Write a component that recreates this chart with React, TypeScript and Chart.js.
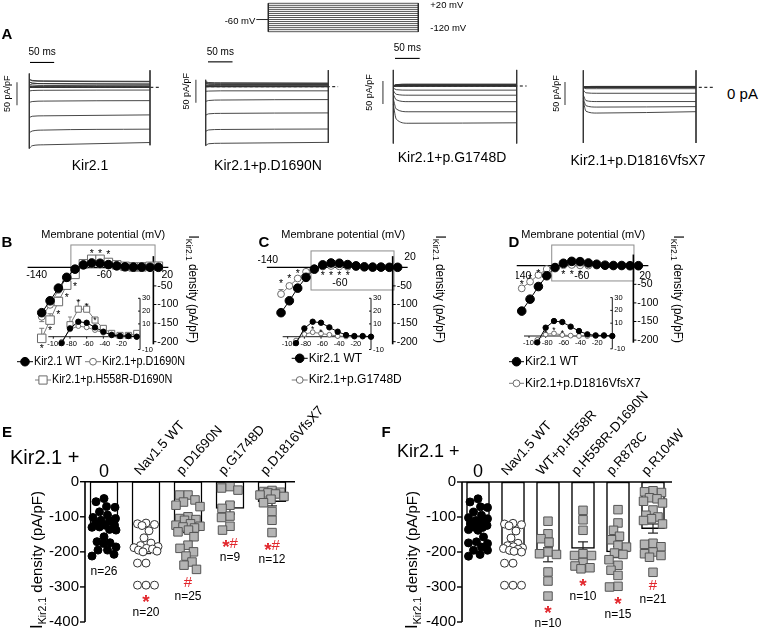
import React, { useEffect, useRef } from "react";
import { Chart, registerables } from "chart.js";

Chart.register(...registerables);

const FONT = '"Liberation Sans", Arial, Helvetica, sans-serif';
const RED = "#e2262c";

/* ========================= DATA ========================= */
// Voltage protocol (mV)
const protocolStepsMv = [20, 10, 0, -10, -20, -30, -40, -50, -60, -70, -80, -90, -100, -110, -120];
const holdingMv = -60;
const holdingLeadMs = 20;
const stepMs = 250;

// Current traces (pA/pF) sampled at sweepTimesMs; sweeps listed from -130 mV to +10 mV
const sweepTimesMs = [0, 6, 30, 250];
const tracesKir21 = [
  [-133, -127, -125, -120], [-99, -95, -93, -91], [-66, -63, -62, -60], [-33, -31, -30, -29],
  [-8, -7, -6.5, -6], [12, 9, 8, 7], [18, 15, 14, 13], [17, 14, 13, 12], [12, 9, 8, 7],
  [7, 5, 4, 3.5], [4, 2, 1.5, 1.5], [2, 1, 0.5, 0.5], [1, 0.5, 0, 0], [0.5, 0, 0, 0], [0.5, 0, 0, 0],
];
const tracesD1690N = [
  [-128, -124, -123, -121], [-97, -94, -93, -92], [-62, -59, -58, -57], [-32, -30, -29, -28],
  [-10, -9.5, -9, -9], [8, 6, 5.5, 5], [11, 9, 8.5, 8], [10, 8, 7.5, 7], [7, 5.5, 5, 5],
  [4, 3, 3, 3], [2, 2, 1.5, 1.5], [1, 1, 1, 1], [0.5, 0.5, 0.5, 0.5], [0, 0, 0, 0], [0, 0, 0, 0],
];
const tracesG1748D = [
  [-40, -72, -81, -80], [-28, -50, -56, -56], [-18, -30, -34, -34], [-10, -18, -20, -20],
  [-4, -8, -9, -9], [0, 2, 2.5, 2.5], [0, 3, 4, 4], [0, 3, 3.5, 3.5], [0, 2, 2, 2],
  [0, 1, 1, 1], [0, 0.5, 0.5, 0.5], [0, 0, 0, 0], [0, 0, 0, 0], [0, 0, 0, 0], [0, 0, 0, 0],
];
const tracesD1816 = [
  [-30, -52, -56, -53], [-24, -40, -43, -42], [-17, -29, -31, -31], [-6, -12, -13, -13],
  [-1, -3, -3, -3], [0, 1, 1.5, 1.5], [0, 1.5, 2, 2], [0, 1, 1.5, 1.5], [0, 0.5, 1, 1],
  [0, 0.5, 0.5, 0.5], [0, 0, 0, 0], [0, 0, 0, 0], [0, 0, 0, 0], [0, 0, 0, 0], [0, 0, 0, 0],
];
// capacitive transients at step onset / offset: [top, bottom] (pA/pF)
const edgesKir21 = [[30, -133], [37, -126]];
const edgesD1690N = [[15, -128], [36, -122]];
const edgesG1748D = [[35, -125], [35, -125]];
const edgesD1816 = [[37, -121], [37, -121]];
const scaleBarMs = 50;
const scaleBarPA = 50;

// I-V relationships
const ivVoltagesMv = [-130, -120, -110, -100, -90, -80, -70, -60, -50, -40, -30, -20, -10, 0, 10];
const ivWT = [-122, -90, -56, -27, -5, 6.5, 11.7, 10.9, 7.3, 3.9, 1.3, 0.5, 0.5, 0, 0];
const ivD1690N = [-133, -101, -61, -28, -4, 5.7, 8.3, 7.3, 5.2, 3.1, 1.8, 0.8, 0.5, 0, 0];
const ivSemD1690N = [13, 6, 0, 0, 0, 0, 0, 0, 0, 0, 0, 0, 0, 0, 0];
const ivH558RD1690N = [-191, -142, -92, -48, -19, 9.4, 21.5, 21.5, 13, 6.5, 2.6, 1, 1, 2.6, 3];
const ivSemH558RD1690N = [27, 17, 12, 0, 0, 0, 0, 0, 0, 0, 0, 0, 0, 0, 0];
const ivG1748D = [-72, -50, -30, -12, -3, 2, 3.5, 2.5, 1.5, 0.5, 0.2, 0, 0, 0, 0];
const ivSemG1748D = [12, 5, 0, 0, 0, 0, 0, 0, 0, 0, 0, 0, 0, 0, 0];
const ivD1816 = [-61, -43, -25, -9, -3, 1.3, 2, 0.8, 0.3, 0, 0, 0, 0, 0, 0];
const ivSemD1816 = [6, 4, 0, 0, 0, 0, 0, 0, 0, 0, 0, 0, 0, 0, 0];
const ivXTicks = [-140, -60, 20];
const ivYTicks = [-50, -100, -150, -200];

// insets (outward component)
const insetVoltagesMv = [-90, -80, -70, -60, -50, -40, -30, -20, -10, 0];
const insetWT = [-5, 6.5, 11.7, 10.9, 7.3, 3.9, 1.3, 0.5, 0.5, 0];
const insetD1690N = [-4, 5.7, 8.3, 7.3, 5.2, 3.1, 1.8, 0.8, 0.5, 0];
const insetH558RD1690N = [null, 9.4, 21.5, 21.5, 13, 6.5, 2.6, 1, 1, 2.6];
const insetSemH558RD1690N = [0, 6, 7, 4, 0, 0, 0, 0, 0, 0];
const insetG1748D = [-3, 2, 3.5, 2.5, 1.5, 0.5, 0.2, 0, 0, 0];
const insetD1816 = [-3, 1.3, 2, 0.8, 0.3, 0, 0, 0, 0, 0];
const insetXTicks = [-100, -80, -60, -40, -20];
const insetYTicks = [30, 20, 10, -10];

// significance asterisks [mV, pA/pF]
const ivStarsB = [[-70, 42], [-60, 42], [-50, 38], [-90, -46], [-100, -77], [-110, -121], [-120, -164], [-130, -213]];
const insetStarsB = [[-70, 28], [-60, 25], [-50, 14]];
const ivStarsC = [[-130, -39], [-120, -25], [-110, -12], [-80, -17], [-70, -17], [-60, -17], [-50, -17]];
const insetStarsC = [[-80, 5], [-70, 7], [-60, 5]];
const ivStarsD = [[-130, -45], [-120, -31], [-110, -16], [-80, -20], [-70, -20], [-60, -20]];
const insetStarsD = [[-80, 3.5], [-70, 5.5], [-60, 3.5]];

// Panel E
const eCategories = ["0", "Nav1.5 WT", "p.D1690N", "p.G1748D", "p.D1816VfsX7"];
const eMeans = [-124, -193, -133, -76, -57];
const eSem = [7, 12, 12, 16, 12];
const eN = [26, 20, 25, 9, 12];
const eMarks = ["", "*", "#", "*#", "*#"];
const kir21AlonePoints = [-48, -57, -71, -73, -86, -95, -102, -105, -110, -111, -119, -124, -124, -129, -130, -136, -138, -157, -171, -174, -176, -186, -195, -195, -207, -212];
const nav15WTPoints = [-118, -120, -122, -125, -140, -160, -175, -182, -185, -188, -190, -192, -195, -198, -200, -232, -232, -295, -295, -295];
const d1690NPoints = [-38, -38, -52, -58, -67, -71, -100, -105, -108, -110, -120, -124, -127, -129, -132, -138, -143, -157, -181, -190, -200, -212, -229, -238, -250];
const g1748DPoints = [-14, -18, -24, -67, -76, -98, -102, -127, -138];
const d1816Points = [-25, -28, -30, -32, -35, -38, -42, -50, -60, -85, -110, -145];

// Panel F
const fCategories = ["0", "Nav1.5 WT", "WT+p.H558R", "p.H558R-D1690N", "p.R878C", "p.R104W"];
const fMeans = [-126, -193, -208, -190, -200, -133];
const fSem = [7, 12, 20, 19, 16, 13];
const fN = [null, null, 10, 10, 15, 21];
const fMarks = ["", "", "*", "*", "*", "#"];
const h558RPoints = [-112, -148, -162, -172, -200, -205, -207, -257, -283, -326];
const h558RD1690NPoints = [-81, -108, -138, -205, -210, -210, -230, -240, -245, -248];
const r878CPoints = [-79, -117, -138, -155, -165, -181, -186, -203, -207, -222, -238, -252, -267, -298, -300];
const r104WPoints = [-25, -28, -30, -45, -48, -55, -60, -80, -95, -100, -105, -110, -120, -175, -178, -185, -200, -205, -210, -215, -258];
const barYTicks = [0, -100, -200, -300, -400];

/* ========================= HELPERS ========================= */
const lin = (v1: number, p1: number, v2: number, p2: number) => (v: number) => p1 + ((v - v1) * (p2 - p1)) / (v2 - v1);
const PX = (chart: any, id: string) => (v: number) => chart.scales[id].getPixelForValue(v);
const hid = (min: number, max: number) => ({ type: "linear", display: false, min, max, offset: false, grid: { display: false }, ticks: { display: false } });
const lineDs = (data: any[], color: string, width: number) => ({ type: "line", data, borderColor: color, borderWidth: width, pointRadius: 0, pointHoverRadius: 0, fill: false, tension: 0, clip: false });

function txt(ctx: any, s: string, x: number, y: number, o: any = {}) {
  ctx.save();
  ctx.translate(x, y);
  if (o.rot) ctx.rotate(o.rot);
  if (o.sx && o.sx !== 1) ctx.scale(o.sx, 1);
  ctx.font = `${o.bold ? "bold " : ""}${o.size || 12}px ${FONT}`;
  ctx.fillStyle = o.color || "#000";
  ctx.textAlign = o.align || "left";
  ctx.textBaseline = o.base || "middle";
  ctx.fillText(s, 0, 0);
  ctx.restore();
}
function seg(ctx: any, x1: number, y1: number, x2: number, y2: number) {
  ctx.beginPath();
  ctx.moveTo(x1, y1);
  ctx.lineTo(x2, y2);
  ctx.stroke();
}
function star(ctx: any, x: number, y: number, size: number) {
  txt(ctx, "*", x, y + size * 0.22, { size, align: "center" });
}
function drawIkir(ctx: any, x: number, y: number, rot: number, big: number, small: number, rest: number, sx = 1) {
  ctx.save();
  ctx.translate(x, y);
  ctx.rotate(rot);
  ctx.scale(sx, 1);
  ctx.fillStyle = "#000";
  ctx.textBaseline = "alphabetic";
  ctx.textAlign = "left";
  const f1 = `${big}px ${FONT}`, f2 = `${small}px ${FONT}`, f3 = `${rest}px ${FONT}`;
  ctx.font = f1; const w1 = ctx.measureText("I").width;
  ctx.font = f2; const w2 = ctx.measureText("Kir2.1").width;
  ctx.font = f3; const w3 = ctx.measureText(" density (pA/pF)").width;
  let cx = -(w1 + w2 + w3) / 2;
  const base = rest * 0.36;
  ctx.font = f1; ctx.fillText("I", cx, base); cx += w1;
  ctx.font = f2; ctx.fillText("Kir2.1", cx, base + small * 0.33); cx += w2;
  ctx.font = f3; ctx.fillText(" density (pA/pF)", cx, base);
  ctx.restore();
}
function marker(ctx: any, st: any, x: number, y: number, r: number) {
  ctx.save();
  ctx.beginPath();
  if (st.shape === "rect") {
    const s = r * Math.SQRT1_2;
    ctx.rect(x - s, y - s, 2 * s, 2 * s);
  } else ctx.arc(x, y, r, 0, Math.PI * 2);
  ctx.fillStyle = st.fill;
  ctx.fill();
  ctx.lineWidth = 1;
  ctx.strokeStyle = st.stroke;
  ctx.stroke();
  ctx.restore();
}
function drawMark(ctx: any, mk: string, x: number, y: number) {
  const parts = mk.split("").map((ch) => ({ ch, size: ch === "*" ? 19 : 15, w: 0 }));
  ctx.save();
  ctx.fillStyle = RED;
  ctx.textBaseline = "middle";
  ctx.textAlign = "left";
  let total = 0;
  parts.forEach((p) => {
    ctx.font = `${p.ch === "*" ? "bold " : ""}${p.size}px ${FONT}`;
    p.w = ctx.measureText(p.ch).width;
    total += p.w;
  });
  let cx = x - total / 2;
  parts.forEach((p) => {
    ctx.font = `${p.ch === "*" ? "bold " : ""}${p.size}px ${FONT}`;
    ctx.fillText(p.ch, cx, p.ch === "*" ? y + p.size * 0.24 : y);
    cx += p.w;
  });
  ctx.restore();
}
// deterministic beeswarm offsets (in category units) so markers do not overlap
function swarm(values: number[], pxPerUnit: number, pxPerCat: number, diam: number, half: number) {
  const order = values.map((_, i) => i).sort((a, b) => values[b] - values[a]);
  const placed: { x: number; y: number }[] = [];
  const out = new Array(values.length).fill(0);
  for (const i of order) {
    const y = values[i] * pxPerUnit;
    let chosen = 0;
    let found = false;
    for (let k = 0; k < 200; k++) {
      const dx = (k % 2 === 1 ? -1 : 1) * Math.ceil(k / 2) * 0.5;
      if (Math.abs(dx) > half) break;
      if (placed.every((p) => Math.hypot(p.x - dx, p.y - y) >= diam)) {
        chosen = dx;
        found = true;
        break;
      }
    }
    if (!found) {
      let bestD = -1;
      for (let dx = -half; dx <= half; dx += 0.5) {
        const d = Math.min(...placed.map((p) => Math.hypot(p.x - dx, p.y - y)));
        if (d > bestD) { bestD = d; chosen = dx; }
      }
    }
    placed.push({ x: chosen, y });
    out[i] = chosen / pxPerCat;
  }
  return out;
}

type Box = { x: number; y: number; w: number; h: number };
type Area = { l: number; t: number; r: number; b: number };

function ChartBox({ box, area, make }: { box: Box; area: Area; make: () => any }) {
  const ref = useRef<HTMLCanvasElement | null>(null);
  useEffect(() => {
    const cfg = make();
    cfg.options = cfg.options || {};
    cfg.options.responsive = false;
    cfg.options.maintainAspectRatio = false;
    cfg.options.animation = false;
    cfg.options.devicePixelRatio = 1;
    cfg.options.events = [];
    cfg.options.layout = {
      padding: { left: area.l - box.x, top: area.t - box.y, right: box.x + box.w - area.r, bottom: box.y + box.h - area.b },
    };
    cfg.options.plugins = { legend: { display: false }, tooltip: { enabled: false }, title: { display: false } };
    const chart = new Chart(ref.current as HTMLCanvasElement, cfg);
    return () => chart.destroy();
  }, []);
  return <canvas ref={ref} width={box.w} height={box.h} style={{ position: "absolute", left: box.x, top: box.y, width: box.w, height: box.h }} />;
}

/* ========================= PROTOCOL ========================= */
function protocolMake() {
  const top = Math.max(...protocolStepsMv);
  const bot = Math.min(...protocolStepsMv);
  const ds: any[] = protocolStepsMv.map((v) => lineDs([{ x: 0, y: v }, { x: stepMs, y: v }], "#2a2a2a", 0.8));
  ds.push(lineDs([{ x: 0, y: top }, { x: 0, y: bot }], "#2a2a2a", 1));
  ds.push(lineDs([{ x: stepMs, y: top }, { x: stepMs, y: bot }], "#2a2a2a", 1));
  ds.push(lineDs([{ x: -holdingLeadMs, y: holdingMv }, { x: 0, y: holdingMv }], "#2a2a2a", 1));
  return {
    type: "line",
    data: { datasets: ds },
    options: { scales: { x: hid(0, stepMs), y: hid(bot, top) } },
    plugins: [
      {
        id: "protoText",
        afterDraw(chart: any) {
          const ctx = chart.ctx, X = PX(chart, "x"), Y = PX(chart, "y");
          txt(ctx, `${holdingMv} mV`, X(-holdingLeadMs) - 1, Y(holdingMv) + 2, { size: 9.5, align: "right" });
          txt(ctx, `+${top} mV`, X(stepMs) + 12, Y(top) + 2, { size: 9.5 });
          txt(ctx, `${bot} mV`, X(stepMs) + 12, Y(bot) - 3.5, { size: 9.5 });
        },
      },
    ],
  };
}

/* ========================= TRACES ========================= */
const TRACE_PX = 0.46; // px per pA/pF
const tracePanels = [
  { sweeps: tracesKir21, edges: edgesKir21, zeroEndMs: 271, box: { x: 0, y: 40, w: 178, h: 120 }, t0px: 29.3, t250px: 150, zeroPx: 87.3, msBar: { t: 1.5, v: 54 }, paBar: { t: -25.5, v: 11 }, paTextDx: -9 },
  { sweeps: tracesD1690N, edges: edgesD1690N, zeroEndMs: 270, box: { x: 178, y: 40, w: 172, h: 120 }, t0px: 205.7, t250px: 328.3, zeroPx: 86.7, msBar: { t: 4.7, v: 54 }, paBar: { t: -20, v: 15 }, paTextDx: -9 },
  { sweeps: tracesG1748D, edges: edgesG1748D, zeroEndMs: 270, box: { x: 355, y: 40, w: 180, h: 120 }, t0px: 393.3, t250px: 516.7, zeroPx: 86, msBar: { t: 3.4, v: 60 }, paBar: { t: -21, v: 11 }, paTextDx: -13 },
  { sweeps: tracesD1816, edges: edgesD1816, zeroEndMs: 288, box: { x: 540, y: 40, w: 180, h: 120 }, t0px: 583.3, t250px: 696, zeroPx: 87.3, msBar: null, paBar: { t: -40.6, v: 11.5 }, paTextDx: -8.3 },
];
const traceArea = (P: any): Area => ({ l: P.t0px, r: P.t250px, t: P.zeroPx - 40 * TRACE_PX, b: P.zeroPx + 140 * TRACE_PX });

function traceMake(P: any) {
  const ds: any[] = P.sweeps.map((sw: number[]) => ({
    ...lineDs(sweepTimesMs.map((t, j) => ({ x: t, y: sw[j] })), "#333", 0.9),
    cubicInterpolationMode: "monotone",
  }));
  ds.push(lineDs([{ x: 0, y: P.edges[0][0] }, { x: 0, y: P.edges[0][1] }], "#333", 0.9));
  ds.push(lineDs([{ x: stepMs, y: P.edges[1][0] }, { x: stepMs, y: P.edges[1][1] }], "#333", 0.9));
  ds.push({ ...lineDs([{ x: 0, y: 0 }, { x: P.zeroEndMs, y: 0 }], "#000", 1), borderDash: [3, 2.5] });
  return {
    type: "line",
    data: { datasets: ds },
    options: { scales: { x: hid(0, stepMs), y: hid(-140, 40) } },
    plugins: [
      {
        id: "scalebars",
        afterDraw(chart: any) {
          const ctx = chart.ctx, X = PX(chart, "x"), Y = PX(chart, "y");
          ctx.save();
          ctx.strokeStyle = "#000";
          ctx.lineWidth = 1.1;
          if (P.msBar) {
            const x1 = X(P.msBar.t), x2 = X(P.msBar.t + scaleBarMs), y = Y(P.msBar.v);
            seg(ctx, x1, y, x2, y);
            txt(ctx, `${scaleBarMs} ms`, (x1 + x2) / 2, y - 10, { size: 10, align: "center" });
          }
          const xb = X(P.paBar.t), y1 = Y(P.paBar.v), y2 = Y(P.paBar.v - scaleBarPA);
          ctx.strokeStyle = "#444";
          seg(ctx, xb, y1, xb, y2);
          txt(ctx, `${scaleBarPA} pA/pF`, xb + P.paTextDx, (y1 + y2) / 2, { size: 9, align: "center", rot: -Math.PI / 2 });
          ctx.restore();
        },
      },
    ],
  };
}

/* ========================= I-V PANELS ========================= */
const STY: any = {
  wt: { shape: "circle", fill: "#000", stroke: "#000", line: "#000", r: 4.3, ri: 2.7, leg: 4.3 },
  open: { shape: "circle", fill: "#fff", stroke: "#6b6b6b", line: "#7a7a7a", r: 3.4, ri: 2.4, leg: 3.4 },
  square: { shape: "rect", fill: "#fff", stroke: "#6b6b6b", line: "#7a7a7a", r: 6, ri: 4.3, leg: 5.8 },
};
const ivDs = (xs: number[], ys: any[], st: any, r: number) => ({
  type: "line",
  data: xs.map((x, i) => ({ x, y: ys[i] })),
  borderColor: st.line,
  borderWidth: 1,
  pointStyle: st.shape,
  pointRadius: r,
  pointHoverRadius: r,
  pointBackgroundColor: st.fill,
  pointBorderColor: st.stroke,
  pointBorderWidth: 1,
  fill: false,
  tension: 0,
  clip: false,
  spanGaps: false,
});

const wtSeries = { label: "Kir2.1 WT", style: "wt", data: ivWT, inset: insetWT };
const ivPanels = [
  {
    series: [
      wtSeries,
      { label: "Kir2.1+p.D1690N", style: "open", data: ivD1690N, sem: ivSemD1690N, semDir: -1, inset: insetD1690N },
      { label: "Kir2.1+p.H558R-D1690N", style: "square", data: ivH558RD1690N, sem: ivSemH558RD1690N, semDir: 1, inset: insetH558RD1690N, insetSem: insetSemH558RD1690N },
    ],
    box: { x: 0, y: 225, w: 258, h: 178 },
    xm140: 33.4, x20: 166.7, zeroY: 267.3, axisX: 4, axisStart: -147, labelClip: 0,
    zoomBox: [-95, 6, -2, 60],
    stars: ivStarsB,
    xLab: [[3.3, 8], [4.3, 8], [0.6, 8]],
    titleX: 103.3, yTitleX: 193,
    legend: [{ x: 17, y: 361.7 }, { x: 85, y: 361.7 }, { x: 35, y: 380 }],
    legLen: 16, sx: 0.9,
    inset: { box: { x: 40, y: 290, w: 120, h: 68 }, xm100: 53.3, x0: 136.7, zeroY: 336.7, axisX: 4, stars: insetStarsB },
  },
  {
    series: [wtSeries, { label: "Kir2.1+p.G1748D", style: "open", data: ivG1748D, sem: ivSemG1748D, semDir: 1, inset: insetG1748D }],
    box: { x: 258, y: 225, w: 250, h: 178 },
    xm140: 272.7, x20: 406, zeroY: 267.3, axisX: 4, axisStart: -147, labelClip: 0,
    zoomBox: [-94, 5.6, -61, 44],
    stars: ivStarsC,
    xLab: [[-5, -7.3], [0.6, 16], [4, -10.5]],
    titleX: 343.3, yTitleX: 440,
    legend: [{ x: 291.7, y: 358.3 }, { x: 291.7, y: 380 }],
    legLen: 16, sx: 1,
    inset: { box: { x: 275, y: 290, w: 120, h: 68 }, xm100: 287.7, x0: 371, zeroY: 336.7, axisX: 0, stars: insetStarsC },
  },
  {
    series: [wtSeries, { label: "Kir2.1+p.D1816VfsX7", style: "open", data: ivD1816, sem: ivSemD1816, semDir: 1, inset: insetD1816 }],
    box: { x: 508, y: 225, w: 257, h: 178 },
    xm140: 513.4, x20: 646.7, zeroY: 265.7, axisX: 4, axisStart: -136, labelClip: 516,
    zoomBox: [-94, 4.7, -41, 55.6],
    stars: ivStarsD,
    xLab: [[7.5, 10], [1.7, 10], [-1.7, 10]],
    titleX: 583.3, yTitleX: 678.3,
    legend: [{ x: 509, y: 361.7 }, { x: 509, y: 383.3 }],
    legLen: 15, sx: 1,
    inset: { box: { x: 515, y: 290, w: 120, h: 68 }, xm100: 529, x0: 612.3, zeroY: 336, axisX: 0, stars: insetStarsD },
  },
];

const ivArea = (P: any): Area => {
  const xp = lin(-140, P.xm140, 20, P.x20);
  const yp = lin(0, P.zeroY, -50, P.zeroY + 18.6);
  return { l: xp(-140), r: xp(20), t: yp(35), b: yp(-210) };
};
const insetArea = (I: any): Area => {
  const xp = lin(-100, I.xm100, 0, I.x0);
  const yp = lin(0, I.zeroY, 10, I.zeroY - 12.8);
  return { l: xp(-106), r: xp(I.axisX), t: yp(30), b: yp(-10) };
};

function drawErr(ctx: any, X: any, Y: any, xs: number[], ys: any[], sem: number[], dir: number, cap: number) {
  xs.forEach((x, i) => {
    const s = sem[i];
    if (!s || ys[i] == null) return;
    const px = X(x), y1 = Y(ys[i]), y2 = Y(ys[i] + dir * s);
    seg(ctx, px, y1, px, y2);
    seg(ctx, px - cap, y2, px + cap, y2);
  });
}

function ivMainMake(P: any) {
  const ds = P.series.map((s: any) => ivDs(ivVoltagesMv, s.data, STY[s.style], STY[s.style].r));
  return {
    type: "line",
    data: { datasets: ds },
    options: { scales: { x: hid(-140, 20), y: hid(-210, 35) } },
    plugins: [
      {
        id: "ivmain",
        beforeDatasetsDraw(chart: any) {
          const ctx = chart.ctx, X = PX(chart, "x"), Y = PX(chart, "y");
          ctx.save();
          ctx.strokeStyle = "#8c8c8c";
          ctx.lineWidth = 1;
          const [bx0, bx1, by0, by1] = P.zoomBox;
          ctx.strokeRect(X(bx0), Y(by1), X(bx1) - X(bx0), Y(by0) - Y(by1));
          ctx.strokeStyle = "#000";
          ctx.lineWidth = 1.3;
          seg(ctx, X(P.axisStart), Y(0), X(22), Y(0));
          ctx.lineWidth = 1.6;
          seg(ctx, X(P.axisX), Y(30), X(P.axisX), Y(-207));
          ctx.lineWidth = 1;
          ivYTicks.forEach((v) => seg(ctx, X(P.axisX), Y(v), X(P.axisX) + 3, Y(v)));
          ctx.strokeStyle = "#777";
          P.series.forEach((s: any) => { if (s.sem) drawErr(ctx, X, Y, ivVoltagesMv, s.data, s.sem, s.semDir, 2.5); });
          ctx.restore();
        },
        afterDraw(chart: any) {
          const ctx = chart.ctx, X = PX(chart, "x"), Y = PX(chart, "y");
          ctx.save();
          if (P.labelClip) {
            ctx.beginPath();
            ctx.rect(P.labelClip - P.box.x, 0, P.box.w, P.box.h);
            ctx.clip();
          }
          ivXTicks.forEach((v, i) => txt(ctx, String(v), X(v) + P.xLab[i][0], Y(0) + P.xLab[i][1], { size: 10.5, align: "center" }));
          ctx.restore();
          ivYTicks.forEach((v) => txt(ctx, String(v), X(P.axisX) + 4, Y(v), { size: 10.5 }));
          P.stars.forEach(([x, y]: number[]) => star(ctx, X(x), Y(y), 10.5));
          // page-positioned decorations
          ctx.save();
          ctx.translate(-P.box.x, -P.box.y);
          txt(ctx, "Membrane potential (mV)", P.titleX, 235, { size: 11.5, align: "center", sx: 0.955 });
          drawIkir(ctx, P.yTitleX, 289, Math.PI / 2, 14, 9, 12.5, 0.93);
          P.series.forEach((s: any, i: number) => {
            const L = P.legend[i];
            const st = STY[s.style];
            ctx.save();
            ctx.strokeStyle = st.line;
            ctx.lineWidth = 1;
            seg(ctx, L.x, L.y, L.x + P.legLen, L.y);
            ctx.restore();
            marker(ctx, st, L.x + P.legLen / 2, L.y, st.leg);
            txt(ctx, s.label, L.x + P.legLen + 1, L.y, { size: 12, sx: P.sx });
          });
          ctx.restore();
        },
      },
    ],
  };
}

function insetMake(P: any) {
  const I = P.inset;
  const ds = P.series.map((s: any) => ivDs(insetVoltagesMv, s.inset, STY[s.style], STY[s.style].ri));
  return {
    type: "line",
    data: { datasets: ds },
    options: { scales: { x: hid(-106, I.axisX), y: hid(-10, 30) } },
    plugins: [
      {
        id: "inset",
        beforeDatasetsDraw(chart: any) {
          const ctx = chart.ctx, X = PX(chart, "x"), Y = PX(chart, "y");
          ctx.save();
          ctx.strokeStyle = "#000";
          ctx.lineWidth = 0.9;
          seg(ctx, X(-106), Y(0), X(I.axisX), Y(0));
          seg(ctx, X(I.axisX), Y(30), X(I.axisX), Y(-10));
          insetYTicks.forEach((v) => seg(ctx, X(I.axisX) - 2, Y(v), X(I.axisX), Y(v)));
          insetXTicks.forEach((v) => seg(ctx, X(v), Y(0), X(v), Y(0) + 2));
          ctx.strokeStyle = "#777";
          P.series.forEach((s: any) => { if (s.insetSem) drawErr(ctx, X, Y, insetVoltagesMv, s.inset, s.insetSem, 1, 2); });
          ctx.restore();
        },
        afterDraw(chart: any) {
          const ctx = chart.ctx, X = PX(chart, "x"), Y = PX(chart, "y");
          insetXTicks.forEach((v) => txt(ctx, String(v), X(v) + 1.5, Y(0) + 7, { size: 7.5, align: "center" }));
          insetYTicks.forEach((v) => txt(ctx, String(v), X(I.axisX) + 2, Y(v), { size: 7.5 }));
          I.stars.forEach(([x, y]: number[]) => star(ctx, X(x), Y(y), 8.5));
        },
      },
    ],
  };
}

/* ========================= BAR PANELS ========================= */
const barPanels = [
  {
    cats: eCategories, means: eMeans, sem: eSem, n: eN, marks: eMarks,
    groups: [kir21AlonePoints, nav15WTPoints, d1690NPoints, g1748DPoints, d1816Points],
    styles: ["filled", "open", "sq", "sq", "sq"],
    box: { x: 0, y: 385, w: 380, h: 244 },
    axisPx: 85, endPx: 295, c0: 104, sp: 42, zeroPx: 481.7, m400Px: 622, barW: 28,
    titleX: 37, kirX: 10, kirY: 458, kirSize: 20,
  },
  {
    cats: fCategories, means: fMeans, sem: fSem, n: fN, marks: fMarks,
    groups: [kir21AlonePoints, nav15WTPoints, h558RPoints, h558RD1690NPoints, r878CPoints, r104WPoints],
    styles: ["filled", "open", "sq", "sq", "sq", "sq"],
    box: { x: 380, y: 385, w: 385, h: 244 },
    axisPx: 462, endPx: 672, c0: 478, sp: 35, zeroPx: 482, m400Px: 622, barW: 23,
    titleX: 412, kirX: 397, kirY: 452, kirSize: 18,
  },
];
const barArea = (P: any): Area => ({ l: P.axisPx, r: P.endPx, t: P.zeroPx, b: P.m400Px });

function barMake(P: any) {
  const pxPerUnit = (P.m400Px - P.zeroPx) / 400;
  const datasets: any[] = P.groups.map((vals: number[], gi: number) => {
    const offs = swarm(vals, pxPerUnit, P.sp, 8.4, P.barW / 2 - 2);
    const st = P.styles[gi];
    return {
      type: "scatter",
      order: 1,
      clip: false,
      data: vals.map((v, k) => ({ x: gi + offs[k], y: v })),
      pointStyle: st === "sq" ? "rect" : "circle",
      pointRadius: st === "sq" ? 6 : 4,
      pointHoverRadius: st === "sq" ? 6 : 4,
      pointBackgroundColor: st === "filled" ? "#000" : st === "open" ? "#fff" : "#b4b4b4",
      pointBorderColor: st === "filled" ? "#000" : st === "open" ? "#333" : "#555",
      pointBorderWidth: 1,
    };
  });
  datasets.push({
    type: "bar",
    order: 2,
    clip: false,
    data: P.means.map((m: number, i: number) => ({ x: i, y: m })),
    backgroundColor: "#fff",
    borderColor: "#000",
    borderWidth: 1.5,
    borderSkipped: false,
    barThickness: P.barW,
  });
  return {
    type: "bar",
    data: { datasets },
    options: {
      scales: {
        x: hid((P.axisPx - P.c0) / P.sp, (P.endPx - P.c0) / P.sp),
        y: hid(-400, 0),
      },
    },
    plugins: [
      {
        id: "barpanel",
        afterDatasetDraw(chart: any, args: any) {
          if (args.meta.type !== "bar") return;
          const ctx = chart.ctx, X = PX(chart, "x"), Y = PX(chart, "y");
          ctx.save();
          ctx.strokeStyle = "#222";
          ctx.lineWidth = 1.2;
          P.means.forEach((m: number, i: number) => {
            const s = P.sem[i], x = X(i);
            seg(ctx, x, Y(m - s), x, Y(m + s));
            seg(ctx, x - 5, Y(m - s), x + 5, Y(m - s));
            seg(ctx, x - 5, Y(m + s), x + 5, Y(m + s));
          });
          ctx.restore();
        },
        afterDraw(chart: any) {
          const ctx = chart.ctx, X = PX(chart, "x"), Y = PX(chart, "y");
          const xs = chart.scales.x;
          const ax = X(xs.min);
          ctx.save();
          ctx.strokeStyle = "#000";
          ctx.lineWidth = 1.6;
          seg(ctx, ax, Y(0), ax, Y(-400));
          seg(ctx, ax, Y(0), X(xs.max), Y(0));
          ctx.lineWidth = 1.4;
          barYTicks.forEach((v) => {
            seg(ctx, ax - 5, Y(v), ax, Y(v));
            txt(ctx, String(v), ax - 6, Y(v), { size: 15, align: "right" });
          });
          ctx.restore();
          P.cats.forEach((c: string, i: number) => {
            if (c === "0") txt(ctx, c, X(i), Y(0) - 5, { size: 18, align: "center", base: "alphabetic" });
            else txt(ctx, c, X(i) - 6, Y(0) - 6, { size: 13.5, rot: (-48 * Math.PI) / 180, base: "alphabetic" });
          });
          P.groups.forEach((vals: number[], i: number) => {
            const low = Y(Math.min(...vals));
            const mk = P.marks[i];
            let y = low;
            if (mk) {
              y = low + 13.5;
              drawMark(ctx, mk, X(i), y);
            }
            if (P.n[i] != null) txt(ctx, "n=" + P.n[i], X(i), mk ? y + 14 : low + 16, { size: 12, align: "center" });
          });
          // page-positioned decorations
          ctx.save();
          ctx.translate(-P.box.x, -P.box.y);
          drawIkir(ctx, P.titleX, 560, -Math.PI / 2, 17, 10.5, 15);
          txt(ctx, "Kir2.1 +", P.kirX, P.kirY, { size: P.kirSize });
          ctx.restore();
        },
      },
    ],
  };
}

/* ========================= STATIC TEXT ========================= */
const staticLabels = [
  { t: "A", x: 7, y: 33, size: 15, bold: true },
  { t: "B", x: 7, y: 241, size: 15, bold: true },
  { t: "C", x: 264, y: 241, size: 15, bold: true },
  { t: "D", x: 514, y: 241, size: 15, bold: true },
  { t: "E", x: 7, y: 431, size: 15, bold: true },
  { t: "F", x: 386, y: 431, size: 15, bold: true },
  { t: "Kir2.1", x: 90, y: 165, size: 14 },
  { t: "Kir2.1+p.D1690N", x: 268, y: 165, size: 14 },
  { t: "Kir2.1+p.G1748D", x: 452, y: 157, size: 14 },
  { t: "Kir2.1+p.D1816VfsX7", x: 638, y: 160, size: 14 },
  { t: "0 pA", x: 742.5, y: 93, size: 15 },
];

function TextLabel({ t, x, y, size, bold }: any) {
  return (
    <div
      style={{
        position: "absolute",
        left: x,
        top: y,
        transform: "translate(-50%, -50%)",
        fontFamily: FONT,
        fontSize: size,
        fontWeight: bold ? "bold" : "normal",
        lineHeight: 1,
        whiteSpace: "nowrap",
        color: "#000",
      }}
    >
      {t}
    </div>
  );
}

export default function App() {
  return (
    <div style={{ position: "absolute", left: 0, top: 0, width: 765, height: 629, overflow: "hidden", background: "#fff" }}>
      <ChartBox box={{ x: 215, y: 0, w: 260, h: 40 }} area={{ l: 268.3, t: 3.3, r: 418.3, b: 31.7 }} make={protocolMake} />
      {tracePanels.map((P, i) => (
        <ChartBox key={"t" + i} box={P.box} area={traceArea(P)} make={() => traceMake(P)} />
      ))}
      {ivPanels.map((P, i) => (
        <ChartBox key={"iv" + i} box={P.box} area={ivArea(P)} make={() => ivMainMake(P)} />
      ))}
      {ivPanels.map((P, i) => (
        <ChartBox key={"in" + i} box={P.inset.box} area={insetArea(P.inset)} make={() => insetMake(P)} />
      ))}
      {barPanels.map((P, i) => (
        <ChartBox key={"b" + i} box={P.box} area={barArea(P)} make={() => barMake(P)} />
      ))}
      {staticLabels.map((L, i) => (
        <TextLabel key={"l" + i} {...L} />
      ))}
    </div>
  );
}
